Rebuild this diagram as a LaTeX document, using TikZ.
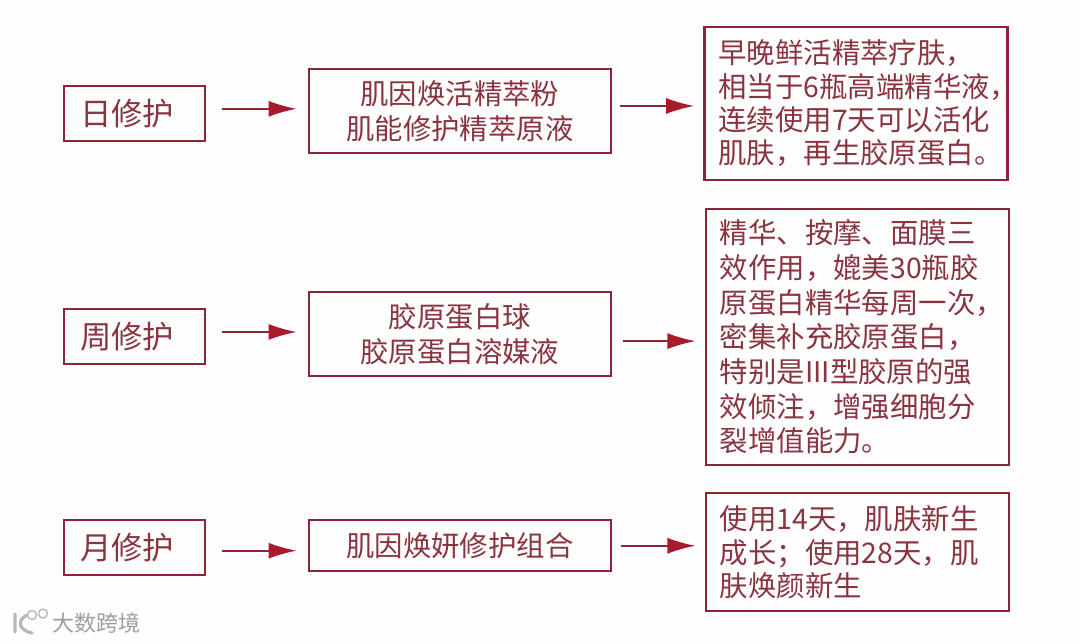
\documentclass[tikz,border=0pt]{standalone}
\usepackage{fontspec}
\setmainfont{Noto Sans CJK SC}
\usetikzlibrary{arrows.meta,positioning}
\definecolor{boxred}{HTML}{8E2438}
\definecolor{textred}{HTML}{8A3440}
\definecolor{tipred}{HTML}{A81B2D}

\begin{document}
\begin{tikzpicture}[
  x=0.75pt, y=-0.75pt,
  every node/.style={inner sep=0pt, text=textred},
  cycle/.style={draw=boxred, line width=1.6pt, text width=81.6pt, inner xsep=12pt, minimum height=41.25pt,
                align=left, font=\fontsize{23.5}{28}\selectfont},
  item/.style={draw=boxred, line width=1.6pt, minimum width=226.5pt, minimum height=63pt,
               align=center, font=\fontsize{21.3}{26}\selectfont},
  effect/.style={draw=boxred, line width=1.6pt, text width=206.25pt, inner xsep=10.5pt,
                 align=left, font=\fontsize{21.3}{25}\selectfont},
  arr/.style={-{Latex[length=21pt,width=12pt,color=tipred]}, draw=boxred, line width=1.2pt,
              shorten <=12pt, shorten >=8.5pt},
  markname/.style={font=\fontsize{16.5}{20}\selectfont, text=black!38}
]
\useasboundingbox (0,0) rectangle (1080,643);
\fill[black!0.5] (0,0) rectangle (1080,643);

\node[cycle] (day) at (134.5,113.5) {日修护};
\node[cycle, below=124.5pt of day] (week) {周修护};
\node[cycle, below=115.5pt of week] (month) {月修护};

\node[item, right=76.4pt of day, yshift=1.9pt] (dayitem) {肌因焕活精萃粉\\肌能修护精萃原液};
\node[item, right=76.4pt of week, yshift=1.9pt] (weekitem) {胶原蛋白球\\胶原蛋白溶媒液};
\node[item, right=76.4pt of month, yshift=1.5pt, minimum height=38.25pt] (monthitem) {肌因焕妍修护组合};

\node[effect, right=68.6pt of dayitem, yshift=5.6pt, minimum height=114.75pt] (dayeffect)
  {早晚鲜活精萃疗肤，\\相当于6瓶高端精华液，\\连续使用7天可以活化\\肌肤，再生胶原蛋白。};
\node[effect, right=69.6pt of weekitem, yshift=-2.25pt, minimum height=192pt,
      font=\fontsize{21.3}{26}\selectfont] (weekeffect)
  {精华、按摩、面膜三\\效作用，媲美30瓶胶\\原蛋白精华每周一次，\\密集补充胶原蛋白，\\特别是III型胶原的强\\效倾注，增强细胞分\\裂增值能力。};
\node[effect, right=69.6pt of monthitem, yshift=-4.9pt, minimum height=88.5pt] (montheffect)
  {使用14天，肌肤新生\\成长；使用28天，肌\\肤焕颜新生};

\draw[arr] ([yshift=3.5pt]day.east) -- ([yshift=3.5pt]day.east -| dayitem.west);
\draw[arr] ([yshift=3.5pt]week.east) -- ([yshift=3.5pt]week.east -| weekitem.west);
\draw[arr] ([yshift=-2.2pt]month.east) -- ([yshift=-2.2pt]month.east -| monthitem.west);

\draw[arr, shorten <=6pt, shorten >=7pt] ([yshift=3.75pt]dayitem.east) -- ([yshift=3.75pt]dayitem.east -| dayeffect.west);
\draw[arr, shorten <=8pt, shorten >=7pt] ([yshift=-5.25pt]weekitem.east) -- ([yshift=-5.25pt]weekitem.east -| weekeffect.west);
\draw[arr, shorten <=7pt, shorten >=7pt] (monthitem.east) -- (monthitem.east -| montheffect.west);

% watermark
\node[markname] (wm) at (96,623.5) {大数跨境};
\draw[black!28, line width=2.4pt, line cap=round] (15,614) -- (15,632)
  (27,615) .. controls (17,620) and (18,630) .. (32,633);
\draw[black!28, line width=1pt] (32,615) circle (4.5) (43,613.5) circle (4.5);
\end{tikzpicture}
\end{document}
